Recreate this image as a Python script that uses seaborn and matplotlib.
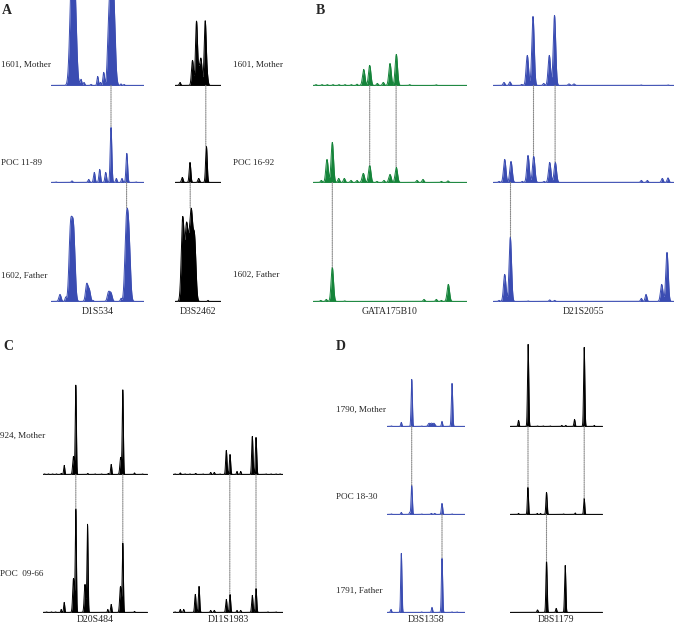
import numpy as np
import pandas as pd
import matplotlib
matplotlib.use("Agg")
import matplotlib.pyplot as plt
from matplotlib.patches import ConnectionPatch
import seaborn as sns

# Peaks: (size position, height, peak width)
# positions are in trace units from the left end of each trace

# Panel A
D1S534_1601 = [(20.5, 95, 1.8), (23.5, 95, 1.8), (30, 6, 0.8), (33, 3, 0.7), (40, 1, 0.6),
               (46.7, 9, 0.7), (49.5, 3, 0.6), (52.7, 13, 0.8), (57, 18, 1.0), (59.3, 88, 1.7),
               (62.3, 88, 1.7), (70, 1.5, 0.6), (73, 1, 0.6)]
D1S534_POC1189 = [(5, 0.5, 0.5), (21, 1.5, 0.7), (37.7, 3, 0.8), (43.3, 10, 0.8), (48.7, 13, 0.8),
                  (54.7, 10, 0.8), (60, 55, 0.8), (65.3, 4, 0.7), (71, 4, 0.7), (75.8, 29, 0.8),
                  (85, 0.5, 0.5)]
D1S534_1602 = [(9, 7, 1.1), (14.7, 4, 0.7), (19.5, 71, 1.5), (22.5, 69, 1.5), (35.7, 17, 1.2),
               (38.3, 11, 1.2), (42, 1, 0.6), (57.5, 9, 1.2), (60, 8, 1.2), (70, 3, 0.7),
               (75.3, 71, 1.5), (77.8, 60, 1.5)]
D3S2462_1601 = [(5, 3, 0.7), (17.5, 25, 1.0), (21.5, 64, 1.0), (24, 14, 0.9), (26, 26, 1.0),
                (30.2, 64, 1.0), (32.2, 8, 0.9)]
D3S2462_POC1189 = [(7.3, 5, 0.8), (15, 20, 0.8), (23.7, 4, 0.8), (31.4, 36, 0.8)]
D3S2462_1602 = [(7.7, 83, 1.4), (11.5, 73, 1.4), (14, 34, 1.2), (16.3, 83, 1.4), (19.5, 62, 1.4),
                (33, 1, 0.5)]

# Panel B
GATA175B10_1601 = [(3, 0.8, 0.6), (9, 0.8, 0.6), (14.3, 0.8, 0.6), (20, 0.8, 0.6), (26, 0.8, 0.6),
                   (32, 0.8, 0.6), (38.3, 0.8, 0.6), (44, 1.2, 0.7), (50.7, 16, 1.2), (56.7, 20, 1.2),
                   (64.3, 2, 0.8), (70.3, 3, 0.9), (77, 22, 1.2), (83.3, 31, 1.2), (96.7, 0.8, 0.6),
                   (123.3, 0.6, 0.6)]
GATA175B10_POC1692 = [(8.3, 2, 0.8), (14, 23, 1.2), (19.3, 40, 1.2), (25.7, 4, 0.9), (31.3, 4, 0.9),
                      (38, 2, 0.8), (44, 2, 0.8), (50.3, 9, 1.2), (56.7, 17, 1.2), (64, 1, 0.7),
                      (71, 2, 0.8), (77, 8, 1.2), (83.3, 15, 1.2), (104, 2, 0.8), (110, 3, 0.9),
                      (128.3, 1, 0.7), (135, 1.5, 0.8)]
GATA175B10_1602 = [(7.7, 1, 0.7), (13.3, 2, 0.8), (19.3, 34, 1.2), (31.7, 0.5, 0.6), (111, 2, 0.8),
                   (123.3, 2, 0.8), (128.3, 1, 0.7), (135.3, 17, 1.2)]
D21S2055_1601 = [(11, 3, 0.9), (17, 3.5, 0.9), (28.7, 1, 0.7), (34.3, 30, 1.2), (40, 69, 1.2),
                 (50.7, 2, 0.8), (56.3, 30, 1.2), (61.5, 70, 1.2), (76, 1.5, 0.9), (81, 1.5, 0.9),
                 (148, 0.5, 0.6), (175, 0.5, 0.6)]
D21S2055_POC1692 = [(6, 1, 0.7), (11.7, 23, 1.2), (18, 21, 1.2), (29.3, 1, 0.7), (35, 27, 1.2),
                    (40.7, 26, 1.2), (51, 1, 0.7), (56.7, 20, 1.2), (62.3, 20, 1.2), (148.3, 2, 0.8),
                    (154.3, 2, 0.8), (169.3, 4, 0.9), (175, 4.5, 0.9)]
D21S2055_1602 = [(6, 1, 0.7), (11.7, 27, 1.2), (17.3, 64, 1.2), (35, 0.5, 0.6), (56.7, 1.5, 0.7),
                 (61.7, 1, 0.7), (148.3, 3, 0.8), (153, 7, 0.9), (168.7, 17, 1.2), (174, 49, 1.2)]

# Panel C
D20S484_924 = [(2, 0.5, 0.4), (6, 0.5, 0.4), (10, 0.5, 0.4), (14, 0.5, 0.4), (18.7, 1, 0.4),
               (21.7, 9, 0.55), (31, 18, 0.8), (33.3, 89, 0.55), (45.3, 1, 0.4), (52.7, 0.5, 0.4),
               (59, 0.5, 0.4), (65.7, 1, 0.4), (68.7, 10, 0.55), (78.2, 17, 0.8), (80.3, 84, 0.55),
               (92, 1.5, 0.4), (100, 0.5, 0.4)]
D20S484_POC0966 = [(4, 0.5, 0.4), (9, 0.5, 0.4), (13, 0.5, 0.4), (18.7, 3, 0.4), (21.7, 10, 0.55),
                   (31, 34, 0.8), (33.3, 103, 0.55), (42.5, 28, 0.8), (45, 88, 0.55), (65.3, 3, 0.4),
                   (68.7, 8, 0.55), (78, 26, 0.8), (80.3, 69, 0.55), (92, 1, 0.4)]
D11S1983_924 = [(2, 0.5, 0.4), (7.3, 1.5, 0.5), (12, 0.5, 0.4), (17, 0.5, 0.4), (22.7, 1, 0.5),
                (30, 0.5, 0.4), (37.7, 2, 0.5), (41.3, 2, 0.5), (47, 0.5, 0.4), (53.3, 24, 0.65),
                (57, 20, 0.65), (64, 3, 0.5), (67.7, 3, 0.5), (79.3, 38, 0.65), (83, 37, 0.65),
                (93, 0.5, 0.4), (98, 0.5, 0.4), (103, 0.5, 0.4), (107, 0.5, 0.4)]
D11S1983_POC0966 = [(2, 0.5, 0.4), (7.3, 3, 0.5), (10.7, 3, 0.5), (22.3, 18, 0.65), (26, 26, 0.65),
                    (37.7, 2, 0.5), (41.3, 2, 0.5), (53.3, 13, 0.65), (57, 18, 0.65), (64, 2, 0.5),
                    (67.7, 2, 0.5), (79.3, 17, 0.65), (83, 24, 0.65), (95, 0.5, 0.4), (103, 0.5, 0.4)]

# Panel D
D3S1358_1790 = [(4.3, 0.5, 0.4), (14.3, 4, 0.55), (24.7, 47, 0.6), (34.7, 0.5, 0.4), (42, 3, 1.0),
                (44.5, 3, 1.0), (47, 3, 1.0), (55, 5, 0.55), (65, 43, 0.65)]
D3S1358_POC1830 = [(4.3, 0.5, 0.4), (14.3, 2, 0.5), (22.7, 2, 0.5), (24.7, 29, 0.6), (34.7, 0.5, 0.4),
                   (44.3, 1, 0.6), (47.7, 1, 0.6), (55, 11, 0.65), (65, 0.5, 0.4)]
D3S1358_1791 = [(4, 3, 0.55), (14.3, 59, 0.6), (34.7, 0.5, 0.4), (45, 5, 0.55), (55, 54, 0.6),
                (65, 0.5, 0.4), (70, 0.5, 0.4)]
D8S1179_1790 = [(9, 6, 0.55), (18.6, 82, 0.6), (28, 0.5, 0.4), (33.7, 0.5, 0.4), (40.7, 0.5, 0.4),
                (52.3, 1, 0.4), (56.3, 1, 0.4), (65, 7, 0.55), (74.7, 79, 0.6), (84.7, 1, 0.4)]
D8S1179_POC1830 = [(9, 1, 0.4), (18.4, 27, 0.55), (27.7, 1, 0.4), (31, 1, 0.4), (37, 22, 0.6),
                   (54, 0.5, 0.4), (65.7, 1.5, 0.4), (74.7, 16, 0.55)]
D8S1179_1791 = [(28, 2.5, 0.55), (37, 51, 0.6), (46.7, 4, 0.55), (55.7, 47, 0.6)]

# shared alleles: (position, upper row, lower row)
links_D1S534 = [(60, 0, 1), (75.6, 1, 2)]
links_D3S2462 = [(30.8, 0, 1), (15.2, 1, 2)]
links_GATA175B10 = [(56.7, 0, 1), (83.1, 0, 1), (19.3, 1, 2)]
links_D21S2055 = [(40.5, 0, 1), (62.1, 0, 1), (17.5, 1, 2)]
links_D20S484 = [(33.3, 0, 1), (80.3, 0, 1)]
links_D11S1983 = [(56.8, 0, 1), (83, 0, 1)]
links_D3S1358 = [(24.7, 0, 1), (55, 1, 2)]
links_D8S1179 = [(18.5, 0, 1), (74.7, 0, 1), (37, 1, 2)]

labels_A = ["1601, Mother", "POC 11-89", "1602, Father"]
labels_B = ["1601, Mother", "POC 16-92", "1602, Father"]
labels_C = ["924, Mother", "POC  09-66"]
labels_D = ["1790, Mother", "POC 18-30", "1791, Father"]

BLUE, GREEN, BLACK = "#3a4cb2", "#15843a", "#000000"

W, H = 685, 624
sns.set_theme(style="white")
plt.rcParams["font.family"] = ["Liberation Serif", "DejaVu Serif"]
fig = plt.figure(figsize=(W / 100, H / 100), dpi=100)


def curve(peaks, width):
    x = np.linspace(0, width, int(width * 20))
    y = np.zeros_like(x)
    for p, h, s in peaks:
        y += h * np.exp(-0.5 * ((x - p) / s) ** 2)
    return pd.DataFrame({"x": x, "y": y})


def locus(name, x0, x1, rows, tops, bases, color, links, name_y):
    width = x1 - x0
    axes, curves = [], []
    for peaks, top, base in zip(rows, tops, bases):
        ax = fig.add_axes([x0 / W, 1 - base / H, width / W, (base - top) / H])
        df = curve(peaks, width)
        ax.fill_between(df["x"], df["y"], color=color, lw=0)
        sns.lineplot(data=df, x="x", y="y", ax=ax, color=color, lw=0.7)
        ax.axhline(0, color=color, lw=0.8, alpha=0.55)
        ax.set_xlim(0, width)
        ax.set_ylim(-0.6, base - top - 0.6)
        ax.axis("off")
        axes.append(ax)
        curves.append(df)
    for xp, up, lo in links:
        df = curves[lo]
        yp = df.loc[(df["x"] - xp).abs() < 1.0, "y"].max()
        con = ConnectionPatch(xyA=(xp, 0), coordsA=axes[up].transData,
                              xyB=(xp, yp), coordsB=axes[lo].transData,
                              color="#888888", lw=0.8, linestyle=(0, (1, 1)))
        fig.add_artist(con)
    fig.text((x0 + x1) / 2 / W, 1 - name_y / H, name, ha="center", va="center", fontsize=7)


def row_labels(labels, x, ys):
    for s, y in zip(labels, ys):
        fig.text(x / W, 1 - y / H, s, ha="left", va="center", fontsize=6.6)


tops_AB, bases_AB = [0, 86, 183], [86, 183, 302]
tops_C, bases_C = [340, 475], [475, 613]
tops_D, bases_D = [340, 427, 515], [427, 515, 613]

locus("D1S534", 51, 144, [D1S534_1601, D1S534_POC1189, D1S534_1602], tops_AB, bases_AB, BLUE, links_D1S534, 311)
locus("D3S2462", 175, 221, [D3S2462_1601, D3S2462_POC1189, D3S2462_1602], tops_AB, bases_AB, BLACK, links_D3S2462, 311)
locus("GATA175B10", 313, 467, [GATA175B10_1601, GATA175B10_POC1692, GATA175B10_1602], tops_AB, bases_AB, GREEN, links_GATA175B10, 311)
locus("D21S2055", 493, 674, [D21S2055_1601, D21S2055_POC1692, D21S2055_1602], tops_AB, bases_AB, BLUE, links_D21S2055, 311)
locus("D20S484", 42.5, 147.5, [D20S484_924, D20S484_POC0966], tops_C, bases_C, BLACK, links_D20S484, 620)
locus("D11S1983", 173, 283, [D11S1983_924, D11S1983_POC0966], tops_C, bases_C, BLACK, links_D11S1983, 620)
locus("D3S1358", 387, 465, [D3S1358_1790, D3S1358_POC1830, D3S1358_1791], tops_D, bases_D, BLUE, links_D3S1358, 619)
locus("D8S1179", 509.5, 602.5, [D8S1179_1790, D8S1179_POC1830, D8S1179_1791], tops_D, bases_D, BLACK, links_D8S1179, 619)

row_labels(labels_A, 1, [65, 163, 276])
row_labels(labels_B, 233, [65, 163, 275])
row_labels(labels_C, 0, [436, 574])
row_labels(labels_D, 336, [410, 497, 591])

for letter, x, y in [("A", 2, 11), ("B", 316, 11), ("C", 3, 347), ("D", 336, 347)]:
    fig.text(x / W, 1 - y / H, letter, ha="left", va="center", fontsize=10, fontweight="bold")

fig.savefig("out.png", dpi=100)
